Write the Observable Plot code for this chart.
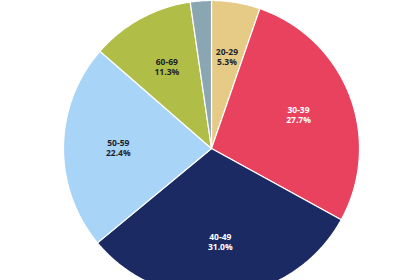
<!DOCTYPE html>
<html>
<head>
<meta charset="utf-8">
<script src="https://cdn.jsdelivr.net/npm/d3@7"></script>
<script src="https://cdn.jsdelivr.net/npm/@observablehq/plot@0.6"></script>
<style>
  html, body { margin: 0; padding: 0; background: #ffffff; overflow: hidden; }
  #chart { width: 420px; height: 280px; }
</style>
</head>
<body>
<div id="chart"></div>
<script>
const categories = ["20-29", "30-39", "40-49", "50-59", "60-69", "70+"];
const shares = [5.3, 27.7, 31.0, 22.4, 11.3, 2.3];
const shareLabels = ["5.3%", "27.7%", "31.0%", "22.4%", "11.3%", ""];
const sliceColors = ["#E5CB86", "#E8425F", "#1C2A64", "#A8D4F8", "#B0BD47", "#8AA6B3"];
const labelColors = ["#1e1e2a", "#ffffff", "#ffffff", "#1e1e2a", "#1e1e2a", "#1e1e2a"];

// Build slice outlines (angles derived from the shares) in unit coordinates
const total = d3.sum(shares);
const polys = [];
const labels = [];
let acc = 0;
categories.forEach((cat, i) => {
  const a0 = acc / total * 2 * Math.PI;
  acc += shares[i];
  const a1 = acc / total * 2 * Math.PI;
  const steps = Math.max(2, Math.ceil((a1 - a0) / (Math.PI / 360)));
  polys.push({cat, x: 0, y: 0});
  for (let k = 0; k <= steps; k++) {
    const a = a0 + (a1 - a0) * k / steps;
    polys.push({cat, x: Math.sin(a), y: Math.cos(a)});
  }
  polys.push({cat, x: 0, y: 0});
  const am = (a0 + a1) / 2;
  if (shareLabels[i]) {
    labels.push({cat, x: 0.63 * Math.sin(am), y: 0.63 * Math.cos(am),
      text: cat + "\n" + shareLabels[i], color: labelColors[i]});
  }
});

const chart = Plot.plot({
  width: 420,
  height: 280,
  margin: 0,
  x: {domain: [-1, 1], range: [63, 359], axis: null},
  y: {domain: [-1, 1], range: [296, 0], axis: null},
  color: {domain: categories, range: sliceColors},
  style: {background: "#ffffff", fontFamily: "'Open Sans', sans-serif"},
  marks: [
    Plot.line(polys, {x: "x", y: "y", z: "cat", fill: "cat", stroke: "#ffffff", strokeWidth: 1.2, strokeLinejoin: "round", curve: "linear"}),
    Plot.text(labels, {x: "x", y: "y", text: "text", fill: "color", fontSize: 8.5, fontWeight: 700, lineHeight: 1.18, textAnchor: "middle"})
  ]
});
document.getElementById("chart").appendChild(chart);
</script>
</body>
</html>
